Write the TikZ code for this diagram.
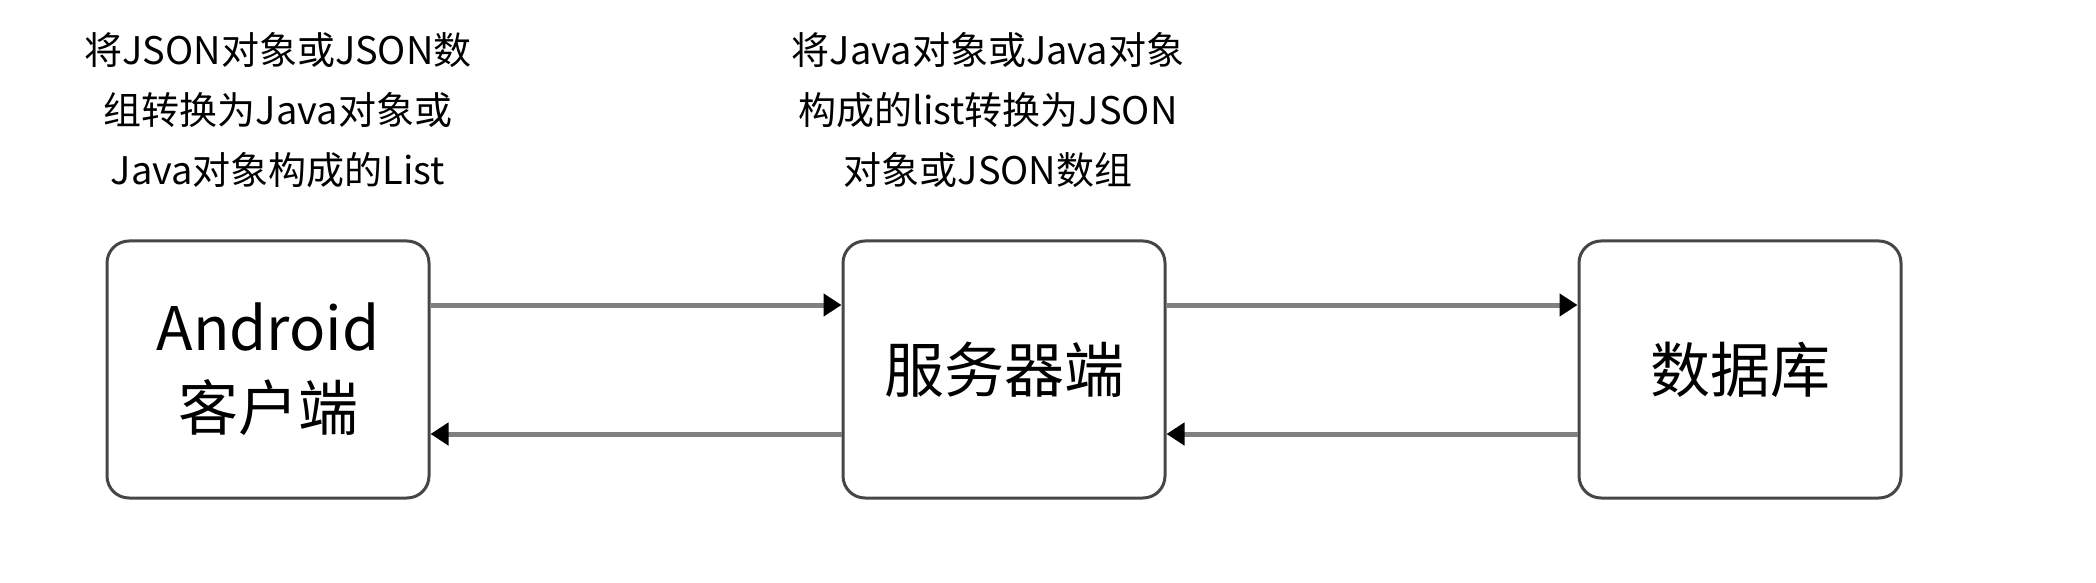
\documentclass[tikz,border=0pt]{standalone}
\usepackage{fontspec}
\setmainfont{Noto Sans CJK SC}
\usetikzlibrary{arrows.meta, positioning}
\tikzstyle{box} = [rectangle, rounded corners = 22pt, minimum width = 322pt, minimum height = 257pt, align = center, draw = {rgb,255:red,70;green,70;blue,70}, line width = 3pt, font = \fontsize{60}{80}\selectfont]
\tikzstyle{note} = [align = center, font = \fontsize{38}{60}\selectfont]
\tikzstyle{arrow} = [line width = 5pt, draw = gray, -{Triangle[black, length = 18pt, width = 22pt]}]

\begin{document}
\begin{tikzpicture}[x = 1pt, y = 1pt, node distance = 411pt]
\useasboundingbox (0,0) rectangle (2096,582);

%NODES
\node (client) [box] at (268,212.5) {Android\\客户端};
\node (server) [box, right = of client] {服务器端};
\node (db) [box, right = of server] {数据库};

\node (note1) [note] at (278,472) {将JSON对象或JSON数\\组转换为Java对象或\\Java对象构成的List};
\node (note2) [note] at (988,472) {将Java对象或Java对象\\构成的list转换为JSON\\对象或JSON数组};

%ARROWS
\draw [arrow] ([yshift = 64.5pt]client.east) -- ([yshift = 64.5pt]server.west);
\draw [arrow] ([yshift = -64.5pt]server.west) -- ([yshift = -64.5pt]client.east);
\draw [arrow] ([yshift = 64.5pt]server.east) -- ([yshift = 64.5pt]db.west);
\draw [arrow] ([yshift = -64.5pt]db.west) -- ([yshift = -64.5pt]server.east);

\end{tikzpicture}
\end{document}
